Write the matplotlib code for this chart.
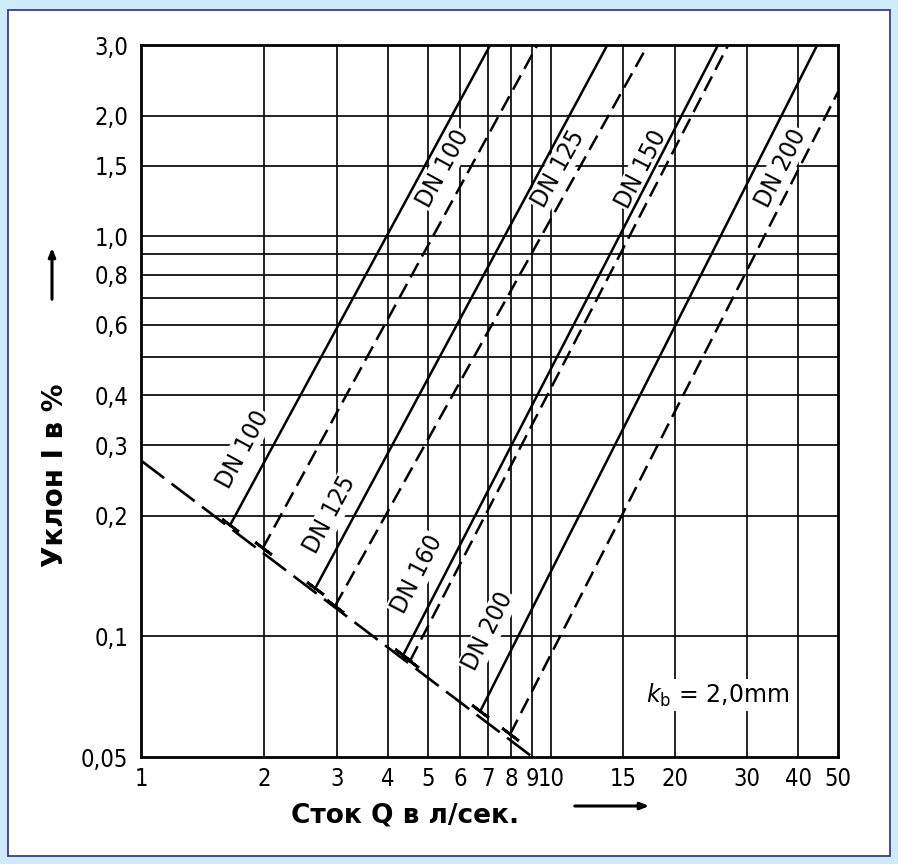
import numpy as np
import matplotlib
matplotlib.use("Agg")
import matplotlib.pyplot as plt
from matplotlib.patches import Rectangle
from matplotlib.ticker import NullLocator

# Achsenteilung
q_ticks = [1, 2, 3, 4, 5, 6, 7, 8, 9, 10, 15, 20, 30, 40, 50]
q_ticklabels = ["1", "2", "3", "4", "5", "6", "7", "8", "9", "10", "15", "20", "30", "40", "50"]
i_ticks = [0.05, 0.1, 0.2, 0.3, 0.4, 0.6, 0.8, 1.0, 1.5, 2.0, 3.0]
i_ticklabels = ["0,05", "0,1", "0,2", "0,3", "0,4", "0,6", "0,8", "1,0", "1,5", "2,0", "3,0"]
i_grid = [0.1, 0.2, 0.3, 0.4, 0.5, 0.6, 0.7, 0.8, 0.9, 1.0, 1.5, 2.0]

# Grenzlinie (gestrichelt, von links oben nach rechts unten)
grenze_q = [1.0, 9.0]
grenze_i = [0.275, 0.05]

# Rohrkennlinien: Anfang an der Grenzlinie, Ende am Diagrammrand
dn_names = ["DN 100", "DN 100", "DN 125", "DN 125", "DN 160", "DN 150", "DN 200", "DN 200"]
dn_dashed = [False, True, False, True, False, True, False, True]
q_start = [1.65, 1.98, 2.66, 2.97, 4.36, 4.53, 6.71, 7.94]
i_start = [0.19, 0.166, 0.132, 0.119, 0.09, 0.087, 0.065, 0.057]
q_end = [7.1, 9.25, 13.7, 17.2, 25.5, 27.0, 44.5, 50.0]
i_end = [3.0, 3.0, 3.0, 3.0, 3.0, 3.0, 3.0, 2.29]

# Lage der Beschriftungen (untere an den vollen, obere an den gestrichelten Linien)
label_q = [1.77, 5.45, 2.89, 10.4, 4.71, 16.6, 7.02, 36.2]
label_i = [0.293, 1.47, 0.201, 1.47, 0.143, 1.47, 0.103, 1.48]

fig = plt.figure(figsize=(8.98, 8.64), dpi=100, facecolor="#cfeaf9")
fig.patches.append(Rectangle((8/898, 8/864), 882/898, 846/864, transform=fig.transFigure,
                             facecolor="white", edgecolor="#2e2e80", lw=1.2, zorder=-10))

ax = fig.add_axes([141/898, 1 - 757/864, 697/898, 712/864])
ax.set_zorder(1)
ax.set_xscale("log")
ax.set_yscale("log")
ax.set_xlim(1, 50)
ax.set_ylim(0.05, 3.0)

for q in q_ticks[1:-1]:
    ax.axvline(q, color="#111111", lw=1.3, zorder=1)
for i in i_grid:
    ax.axhline(i, color="#111111", lw=1.3, zorder=1)

ax.set_xticks(q_ticks)
ax.set_xticklabels(q_ticklabels)
ax.set_yticks(i_ticks)
ax.set_yticklabels(i_ticklabels)
ax.xaxis.set_minor_locator(NullLocator())
ax.yaxis.set_minor_locator(NullLocator())
ax.tick_params(length=0, labelsize=17)
ax.tick_params(axis="x", pad=7)
ax.tick_params(axis="y", pad=9)
for lab in ax.get_xticklabels() + ax.get_yticklabels():
    lab.set_fontstretch("condensed")
for sp in ax.spines.values():
    sp.set_linewidth(2)

# Grenzlinie
ax.plot(grenze_q, grenze_i, color="k", lw=1.9, linestyle=(0, (11, 3.5)), zorder=3)
p0, p1 = ax.transData.transform([(grenze_q[0], grenze_i[0]), (grenze_q[1], grenze_i[1])])
t_angle = np.degrees(np.arctan2(-(p1[0] - p0[0]), p1[1] - p0[1])) + 180

for k in range(len(dn_names)):
    ls = (0, (6.5, 3)) if dn_dashed[k] else "-"
    ax.plot([q_start[k], q_end[k]], [i_start[k], i_end[k]], color="k", lw=1.8, linestyle=ls, zorder=3)
    ax.plot(q_start[k], i_start[k], linestyle="none", marker=(2, 2, t_angle), markersize=15,
            mew=2, color="k", zorder=3)
    a, b = ax.transData.transform([(q_start[k], i_start[k]), (q_end[k], i_end[k])])
    rot = np.degrees(np.arctan2(b[1] - a[1], b[0] - a[0]))
    ax.text(label_q[k], label_i[k], dn_names[k], rotation=rot, rotation_mode="anchor",
            ha="center", va="center", fontsize=18, fontstretch="condensed", zorder=2,
            bbox=dict(facecolor="white", edgecolor="none", pad=1))

ax.text(25.4, 0.0714, r"$k_\mathrm{b}$ = 2,0mm", ha="center", va="center", fontsize=17,
        zorder=2, bbox=dict(facecolor="white", edgecolor="none", pad=2))

# Achsentitel mit Pfeilen
fig.text(55/898, 1 - 475/864, "Уклон I в %", rotation=90, ha="center", va="center",
         fontsize=20, fontweight="bold")
fig.text(405/898, 1 - 822/864, "Сток Q в л/сек.", ha="center", va="baseline",
         fontsize=19, fontweight="bold")
ax.annotate("", xy=(52/898, 1 - 245/864), xytext=(52/898, 1 - 302/864),
            xycoords="figure fraction", textcoords="figure fraction",
            arrowprops=dict(arrowstyle="-|>,head_length=0.5,head_width=0.2", lw=2.2, color="k"))
ax.annotate("", xy=(652/898, 1 - 806/864), xytext=(572/898, 1 - 806/864),
            xycoords="figure fraction", textcoords="figure fraction",
            arrowprops=dict(arrowstyle="-|>,head_length=0.5,head_width=0.2", lw=2.2, color="k"))

fig.savefig("out.png", dpi=100, facecolor=fig.get_facecolor())
